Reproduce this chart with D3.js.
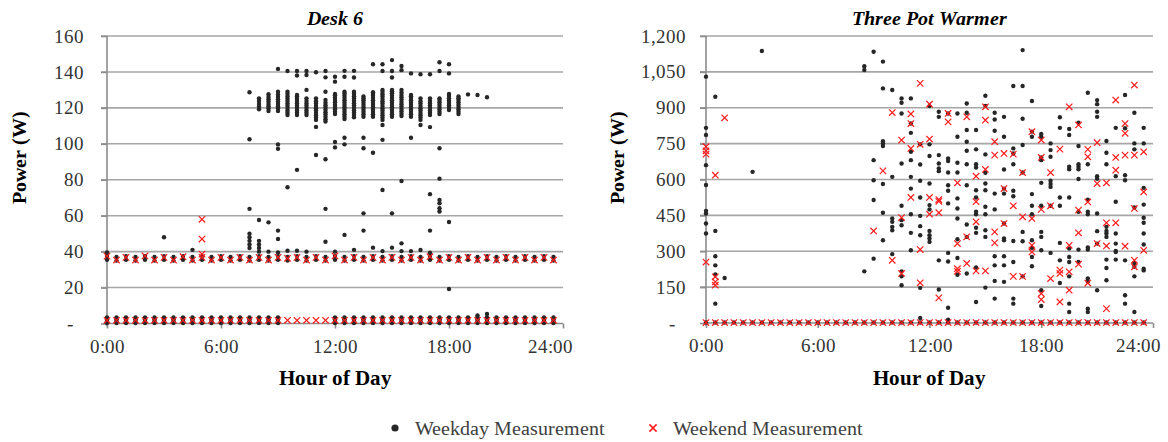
<!DOCTYPE html>
<html>
<head>
<meta charset="utf-8">
<script src="https://cdn.jsdelivr.net/npm/d3@7"></script>
<style>
  @font-face { font-family: "ChartSerif"; font-weight: normal; font-style: normal;
    src: local("Liberation Serif"), local("LiberationSerif"), local("LiberationSerif-Regular"), local("Times New Roman"), local("DejaVu Serif"), local("DejaVuSerif"), local("Noto Serif"), local("NotoSerif-Regular"); }
  @font-face { font-family: "ChartSerif"; font-weight: bold; font-style: normal;
    src: local("Liberation Serif Bold"), local("LiberationSerif-Bold"), local("Times New Roman Bold"), local("DejaVu Serif Bold"), local("DejaVuSerif-Bold"), local("Noto Serif Bold"), local("NotoSerif-Bold"); }
  @font-face { font-family: "ChartSerif"; font-weight: bold; font-style: italic;
    src: local("Liberation Serif Bold Italic"), local("LiberationSerif-BoldItalic"), local("Times New Roman Bold Italic"), local("DejaVu Serif Bold Italic"), local("DejaVuSerif-BoldItalic"), local("Noto Serif Bold Italic"), local("NotoSerif-BoldItalic"); }
  html, body { margin: 0; padding: 0; background: #fff; }
  svg { display: block; }
</style>
</head>
<body>
<svg id="chart" width="1168" height="442"></svg>
<script>
// ---- Tick values ----
const hourTicks = [0, 6, 12, 18, 24];
const deskYTicks = [0, 20, 40, 60, 80, 100, 120, 140, 160];
const warmerYTicks = [0, 150, 300, 450, 600, 750, 900, 1050, 1200];

// ---- Desk 6: readings grouped by half-hour slot [hour, [watts...]] ----
const deskWeekday = [
  [0, [0.3, 1.3, 2.3, 3.3, 35.5, 37.5, 39.5]],
  [0.5, [0.3, 1.3, 2.3, 3.3, 35, 37]],
  [1, [0.3, 1.3, 2.3, 3.3, 35.5, 37.5]],
  [1.5, [0.3, 1.3, 2.3, 3.3, 35, 37]],
  [2, [0.3, 1.3, 2.3, 3.3, 35.5, 37.5]],
  [2.5, [0.3, 1.3, 2.3, 3.3, 35, 37]],
  [3, [0.3, 1.3, 2.3, 3.3, 35.5, 37.5, 48]],
  [3.5, [0.3, 1.3, 2.3, 3.3, 35, 37]],
  [4, [0.3, 1.3, 2.3, 3.3, 35.5, 37.5]],
  [4.5, [0.3, 1.3, 2.3, 3.3, 35, 37, 41]],
  [5, [0.3, 1.3, 2.3, 3.3, 35.5, 37.5]],
  [5.5, [0.3, 1.3, 2.3, 3.3, 35, 37]],
  [6, [0.3, 1.3, 2.3, 3.3, 35.5, 37.5]],
  [6.5, [0.3, 1.3, 2.3, 3.3, 35, 37]],
  [7, [0.3, 1.3, 2.3, 3.3, 35.5, 37.5]],
  [7.5, [0.3, 1.3, 2.3, 3.3, 35, 37, 42, 44, 46, 48, 50, 63.8, 102.5, 128.7]],
  [8, [0.3, 1.3, 2.3, 3.3, 35.5, 37.5, 40, 42, 44, 46, 57.6, 119.2, 120.7, 122.2, 123.8, 125.3]],
  [8.5, [0.3, 1.3, 2.3, 3.3, 35, 37, 40, 56.3, 118.3, 119.6, 120.9, 122.2, 123.5, 124.8, 126.1, 127.6]],
  [9, [0.3, 1.3, 2.3, 3.3, 35.5, 37.5, 39.5, 47, 51.7, 97.2, 99.6, 118.3, 119.6, 120.9, 122.2, 123.5, 124.8, 126.1, 127.4, 129, 141.7]],
  [9.5, [35, 37, 40.5, 75.8, 116, 117.3, 118.6, 119.9, 121.2, 122.5, 123.8, 125.1, 126.4, 127.7, 129, 140.5]],
  [10, [35.5, 37.5, 40.5, 85.5, 116, 117.3, 118.6, 119.9, 121.2, 122.5, 123.8, 125.1, 126.4, 127.2, 138, 140.5]],
  [10.5, [35, 37, 40, 116, 117.3, 118.6, 119.9, 121.2, 122.5, 123.8, 125.3, 130, 138.3, 140.5]],
  [11, [35.5, 37.5, 93.8, 109.4, 113.3, 114.6, 115.9, 117.2, 118.5, 119.8, 121.1, 122.4, 123.7, 125.3, 139.8]],
  [11.5, [35, 37, 45.5, 63.8, 91.4, 112.4, 113.7, 115, 116.3, 117.6, 118.9, 120.2, 121.5, 122.8, 124.4, 129, 137, 140.5]],
  [12, [0.3, 1.3, 2.3, 3.3, 35.5, 37.5, 40, 98, 101, 116.6, 117.9, 119.2, 120.5, 121.8, 123.1, 124.4, 125.7, 127, 127.7, 134.6, 137.3]],
  [12.5, [0.3, 1.3, 2.3, 3.3, 35, 37, 49.3, 99.7, 103.4, 113.8, 115.1, 116.4, 117.7, 119, 120.3, 121.6, 122.9, 124.2, 125.5, 126.8, 128, 129, 137.3, 140.6]],
  [13, [0.3, 1.3, 2.3, 3.3, 35.5, 37.5, 41, 114.8, 116.1, 117.4, 118.7, 120, 121.3, 122.6, 123.9, 125.2, 126.5, 127.8, 129, 136.9, 140.6]],
  [13.5, [0.3, 1.3, 2.3, 3.3, 35, 37, 51.7, 61.3, 97.5, 103.4, 115.1, 116.4, 117.7, 119, 120.3, 121.6, 122.9, 124.2, 125.3, 126.3]],
  [14, [0.3, 1.3, 2.3, 3.3, 35.5, 37.5, 42.2, 95, 115.1, 116.4, 117.7, 119, 120.3, 121.6, 122.9, 124.2, 125.5, 126.8, 127.8, 128.7, 144.3]],
  [14.5, [0.3, 1.3, 2.3, 3.3, 35, 37, 40.3, 74.3, 102.2, 110.5, 113.3, 114.6, 115.9, 117.2, 118.5, 119.8, 121.1, 122.4, 123.7, 125, 126.3, 127.6, 128.9, 130, 140.5, 144.3]],
  [15, [0.3, 1.3, 2.3, 3.3, 35.5, 37.5, 42.2, 61.3, 115.1, 116.4, 117.7, 119, 120.3, 121.6, 122.9, 124.2, 125.5, 126.8, 128.1, 129.2, 130, 136.9, 140.5, 146.6]],
  [15.5, [0.3, 1.3, 2.3, 3.3, 35, 37, 40.3, 44.6, 79.3, 115.5, 116.8, 118.1, 119.4, 120.7, 122, 123.3, 124.6, 125.9, 127.2, 128.5, 130, 141, 143.3]],
  [16, [0.3, 1.3, 2.3, 3.3, 35.5, 37.5, 40.3, 103.4, 115.1, 116.4, 117.7, 119, 120.3, 121.6, 122.9, 124.2, 125.5, 126.5, 127.2, 139.2]],
  [16.5, [0.3, 1.3, 2.3, 3.3, 35, 37, 40.9, 110.5, 113.3, 114.6, 115.9, 117.2, 118.5, 119.8, 121.1, 122.4, 123.7, 125.3, 138.7]],
  [17, [0.3, 1.3, 2.3, 3.3, 35.5, 37.5, 39.4, 51.7, 72, 109.3, 116, 117.3, 118.6, 119.9, 121.2, 122.5, 123.8, 125.3, 138.7]],
  [17.5, [0.3, 1.3, 2.3, 3.3, 35, 37, 62.3, 64.1, 66.9, 68.8, 80.6, 97.5, 116.6, 117.9, 119.2, 120.5, 121.8, 123.1, 124.4, 125.3, 140.5, 145.4]],
  [18, [0.3, 1.3, 2.3, 3.3, 19.2, 35.5, 37.5, 56.5, 118.8, 120.1, 121.4, 122.7, 124, 125.3, 126.6, 127.7, 139.2, 144.3]],
  [18.5, [0.3, 1.3, 2.3, 3.3, 35, 37, 116.6, 117.9, 119.2, 120.5, 121.8, 123.1, 124.4, 125.3, 126.3]],
  [19, [0.3, 1.3, 2.3, 3.3, 35.5, 37.5, 127.5]],
  [19.5, [0.3, 1.3, 2.3, 3.3, 4.5, 35, 37, 127.2]],
  [20, [0.3, 1.3, 2.3, 3.3, 5.3, 35.5, 37.5, 125.9]],
  [20.5, [0.3, 1.3, 2.3, 3.3, 35, 37]],
  [21, [0.3, 1.3, 2.3, 3.3, 35.5, 37.5]],
  [21.5, [0.3, 1.3, 2.3, 3.3, 35, 37]],
  [22, [0.3, 1.3, 2.3, 3.3, 35.5, 37.5]],
  [22.5, [0.3, 1.3, 2.3, 3.3, 35, 37]],
  [23, [0.3, 1.3, 2.3, 3.3, 35.5, 37.5]],
  [23.5, [0.3, 1.3, 2.3, 3.3, 35, 37]]
];

const deskWeekend = [
  [0, [1.8, 37.5]], [0.5, [1.8, 35.3]], [1, [1.8, 36.8]], [1.5, [1.8, 35.3]],
  [2, [1.8, 37.6]], [2.5, [1.8, 35.3]], [3, [1.8, 36.8]], [3.5, [1.8, 35.3]],
  [4, [1.8, 37.2]], [4.5, [1.8, 35.3]], [5, [1.8, 36.8, 38.6, 47, 58]], [5.5, [1.8, 35.3]],
  [6, [1.8, 36.8]], [6.5, [1.8, 35.3]], [7, [1.8, 36.8]], [7.5, [1.8, 35.3]],
  [8, [1.8, 36.8]], [8.5, [1.8, 35.3]], [9, [1.8, 36.8]], [9.5, [1.8, 36.3]],
  [10, [1.8, 36.8]], [10.5, [1.8, 35.3]], [11, [1.8, 36.8]], [11.5, [1.8, 35.3]],
  [12, [1.8, 37.6]], [12.5, [1.8, 35.3]], [13, [1.8, 36.8]], [13.5, [1.8, 35.3]],
  [14, [1.8, 36.8]], [14.5, [1.8, 35.3]], [15, [1.8, 36.8]], [15.5, [1.8, 35.3]],
  [16, [1.8, 36.8]], [16.5, [1.8, 35.3]], [17, [1.8, 37.2]], [17.5, [1.8, 35.3]],
  [18, [1.8, 36.8]], [18.5, [1.8, 35.3]], [19, [1.8, 36.8]], [19.5, [1.8, 35.3]],
  [20, [1.8, 36.8]], [20.5, [1.8, 35.3]], [21, [1.8, 36.8]], [21.5, [1.8, 35.3]],
  [22, [1.8, 36.8]], [22.5, [1.8, 35.3]], [23, [1.8, 36.8]], [23.5, [1.8, 35.3]]
];

// ---- Three Pot Warmer: readings grouped by half-hour slot ----
const warmerWeekday = [
  [0, [2, 374, 416, 458, 469, 577, 660, 786, 816, 1030]],
  [0.5, [2, 81, 203, 241, 279, 385, 946]],
  [1, [2, 188]], [1.5, [2]], [2, [2]],
  [2.5, [2, 632]],
  [3, [2, 1137]],
  [3.5, [2]], [4, [2]], [4.5, [2]], [5, [2]], [5.5, [2]], [6, [2]], [6.5, [2]], [7, [2]], [7.5, [2]], [8, [2]],
  [8.5, [2, 216, 1058, 1074]],
  [9, [2, 269, 514, 597, 681, 1134]],
  [9.5, [2, 346, 461, 581, 740, 751, 760, 981, 1093]],
  [10, [2, 288, 388, 402, 423, 437, 611, 974]],
  [10.5, [2, 158, 195, 216, 409, 430, 490, 667, 876, 921, 939]],
  [11, [2, 304, 377, 455, 562, 611, 681, 716, 795, 834, 939]],
  [11.5, [2, 21, 147, 367, 405, 448, 525, 595, 663, 747]],
  [12, [2, 339, 353, 367, 385, 475, 493, 583, 698, 747, 907]],
  [12.5, [2, 140, 262, 635, 646, 667, 702, 862, 883]],
  [13, [2, 14, 64, 257, 293, 500, 553, 576, 629, 677, 688, 876]],
  [13.5, [2, 202, 272, 350, 437, 479, 521, 629, 670, 779, 876]],
  [14, [2, 207, 360, 412, 576, 664, 720, 758, 807, 879, 918]],
  [14.5, [2, 88, 232, 377, 398, 455, 465, 525, 555, 650, 664, 726, 807]],
  [15, [2, 148, 360, 388, 455, 486, 555, 583, 628, 705, 908, 950]],
  [15.5, [2, 102, 176, 241, 279, 475, 541, 804, 851, 879]],
  [16, [2, 172, 241, 279, 346, 353, 416, 541, 562, 642, 779, 862]],
  [16.5, [2, 81, 102, 255, 343, 530, 553, 664, 709, 730, 991]],
  [17, [2, 195, 342, 381, 629, 744, 854, 991, 1141]],
  [17.5, [2, 237, 276, 314, 346, 455, 490, 539, 779, 800, 928]],
  [18, [2, 71, 137, 304, 360, 381, 490, 586, 681, 692, 779, 790]],
  [18.5, [2, 293, 490, 569, 581, 595, 695, 723, 751]],
  [19, [2, 167, 262, 335, 490, 525, 816, 860]],
  [19.5, [2, 46, 81, 195, 255, 276, 311, 525, 643, 653, 786, 811]],
  [20, [2, 255, 307, 465, 602, 643, 653, 664, 740, 837]],
  [20.5, [2, 46, 60, 172, 186, 307, 316, 455, 465, 516, 664, 963]],
  [21, [2, 137, 332, 384, 458, 603, 614, 862, 883, 915, 932]],
  [21.5, [2, 179, 230, 265, 360, 374, 385, 402, 664, 712, 761]],
  [22, [2, 265, 297, 301, 332, 374, 507, 614, 816]],
  [22.5, [2, 81, 116, 262, 597, 618, 814, 953]],
  [23, [2, 46, 195, 235, 251, 483, 726, 751, 879]],
  [23.5, [2, 220, 227, 328, 374, 419, 440, 495, 565, 751, 816]]
];

const warmerWeekend = [
  [0, [2, 255, 706, 720, 737]],
  [0.5, [2, 158, 172, 193, 618]],
  [1, [2, 858]],
  [1.5, [2]], [2, [2]], [2.5, [2]], [3, [2]], [3.5, [2]], [4, [2]], [4.5, [2]], [5, [2]], [5.5, [2]],
  [6, [2]], [6.5, [2]], [7, [2]], [7.5, [2]], [8, [2]], [8.5, [2]],
  [9, [2, 385]],
  [9.5, [2, 636]],
  [10, [2, 262, 880]],
  [10.5, [2, 207, 441, 765]],
  [11, [2, 525, 730, 834, 874]],
  [11.5, [2, 168, 307, 747, 1002]],
  [12, [2, 455, 525, 769, 915]],
  [12.5, [2, 105, 461, 509, 516]],
  [13, [2, 841, 876]],
  [13.5, [2, 216, 227, 332, 586]],
  [14, [2, 249, 360, 862]],
  [14.5, [2, 218, 423, 507, 614]],
  [15, [2, 218, 642, 848, 904]],
  [15.5, [2, 335, 381, 702, 758]],
  [16, [2, 416, 562, 709]],
  [16.5, [2, 195, 490, 706]],
  [17, [2, 195, 444, 629]],
  [17.5, [2, 297, 325, 437, 800]],
  [18, [2, 98, 123, 475, 692, 765]],
  [18.5, [2, 186, 490, 629]],
  [19, [2, 88, 207, 221, 727]],
  [19.5, [2, 137, 214, 325, 904]],
  [20, [2, 246, 377, 472, 828]],
  [20.5, [2, 167, 506, 695, 726]],
  [21, [2, 332, 583, 754]],
  [21.5, [2, 60, 322, 419, 586]],
  [22, [2, 419, 639, 692, 932]],
  [22.5, [2, 321, 702, 793, 834]],
  [23, [2, 235, 262, 479, 702, 995]],
  [23.5, [2, 304, 548, 716]]
];

// ---- Drawing ----
const svg = d3.select('#chart');
svg.append('rect').attr('width', 1168).attr('height', 442).attr('fill', '#fff');

const GRID = '#a6a6a6';
const AXIS = '#8c8c8c';
const LABEL = '#333';
const DOT = '#262626';
const CROSS = '#ff1a1a';
const SERIF = 'ChartSerif, "Liberation Serif", "Times New Roman", "DejaVu Serif", serif';

const flatten = groups => groups.flatMap(([h, ws]) => ws.map(w => [h, w]));
const crossPath = s => `M${-s},${-s}L${s},${s}M${-s},${s}L${s},${-s}`;

function drawPanel(cfg) {
  const g = svg.append('g').attr('font-family', SERIF);
  const x = d3.scaleLinear().domain([0, 24]).range([cfg.left, cfg.right]);
  const y = d3.scaleLinear().domain([0, cfg.yMax]).range([cfg.bottom, cfg.top]);

  // horizontal gridlines
  g.append('g').selectAll('line')
    .data(cfg.yTicks.filter(v => v > 0))
    .join('line')
    .attr('x1', cfg.left - 6).attr('x2', cfg.right)
    .attr('y1', d => y(d)).attr('y2', d => y(d))
    .attr('stroke', GRID).attr('stroke-width', 1.6);

  // y axis
  const yAxis = g.append('g')
    .attr('transform', `translate(${cfg.left},0)`)
    .call(d3.axisLeft(y).tickValues(cfg.yTicks).tickSize(6).tickPadding(cfg.yPad)
      .tickFormat(d => d === 0 ? '-' : d3.format(',')(d)));
  yAxis.attr('font-family', SERIF).attr('font-size', 19);
  yAxis.select('.domain').remove();
  yAxis.selectAll('line').attr('stroke', AXIS).attr('stroke-width', 1.6);
  yAxis.selectAll('text').attr('fill', LABEL)
    .filter(d => d === 0).attr('x', -cfg.zeroOffset);
  g.append('line')
    .attr('x1', cfg.left).attr('x2', cfg.left)
    .attr('y1', cfg.top).attr('y2', cfg.bottom + 3)
    .attr('stroke', AXIS).attr('stroke-width', 1.6);

  // x axis
  const xAxis = g.append('g')
    .attr('transform', `translate(0,${cfg.bottom})`)
    .call(d3.axisBottom(x).tickValues(hourTicks).tickSize(5).tickPadding(11)
      .tickFormat(d => `${d}:00`));
  xAxis.attr('font-family', SERIF).attr('font-size', 19);
  xAxis.select('.domain').remove();
  xAxis.selectAll('line').attr('stroke', AXIS).attr('stroke-width', 1.6);
  xAxis.selectAll('text').attr('fill', LABEL);
  // the last hour label is kept inside the chart area
  xAxis.selectAll('.tick').filter(d => d === 24).select('text')
    .attr('text-anchor', 'end').attr('x', cfg.lastLabelEnd - x(24));
  g.append('line')
    .attr('x1', cfg.left).attr('x2', cfg.right)
    .attr('y1', cfg.bottom).attr('y2', cfg.bottom)
    .attr('stroke', AXIS).attr('stroke-width', 1.6);

  // weekday readings
  g.append('g').selectAll('circle')
    .data(flatten(cfg.weekday))
    .join('circle')
    .attr('cx', d => x(d[0])).attr('cy', d => y(d[1]))
    .attr('r', 2.2).attr('fill', DOT);

  // weekend readings
  g.append('g').selectAll('path')
    .data(flatten(cfg.weekend))
    .join('path')
    .attr('transform', d => `translate(${x(d[0])},${y(d[1])})`)
    .attr('d', crossPath(3.2))
    .attr('fill', 'none').attr('stroke', CROSS).attr('stroke-width', 1.2);

  // titles
  const cx = (cfg.left + cfg.right) / 2;
  g.append('text')
    .attr('x', cx).attr('y', 25).attr('text-anchor', 'middle')
    .attr('font-size', 20).attr('font-weight', 'bold').attr('font-style', 'italic')
    .attr('fill', '#000').text(cfg.title);
  g.append('text')
    .attr('x', cx).attr('y', 385).attr('text-anchor', 'middle')
    .attr('font-size', 21).attr('font-weight', 'bold')
    .attr('fill', '#000').text('Hour of Day');
  g.append('text')
    .attr('transform', `translate(${cfg.yTitleX},157) rotate(-90)`)
    .attr('text-anchor', 'middle')
    .attr('font-size', 20).attr('font-weight', 'bold')
    .attr('fill', '#000').text('Power (W)');
}

drawPanel({
  title: 'Desk 6', left: 107, right: 563, top: 36, bottom: 323.5,
  yMax: 160, yTicks: deskYTicks, yPad: 17, zeroOffset: 34, yTitleX: 26, lastLabelEnd: 572,
  weekday: deskWeekday, weekend: deskWeekend
});

drawPanel({
  title: 'Three Pot Warmer', left: 706, right: 1153, top: 36, bottom: 323,
  yMax: 1200, yTicks: warmerYTicks, yPad: 14, zeroOffset: 31, yTitleX: 624, lastLabelEnd: 1160,
  weekday: warmerWeekday, weekend: warmerWeekend
});

// legend
const legend = svg.append('g').attr('transform', 'translate(0,428)').attr('font-family', SERIF);
legend.append('circle').attr('cx', 395).attr('cy', 0).attr('r', 3.6).attr('fill', DOT);
legend.append('text').attr('x', 415).attr('y', 7).attr('font-size', 20).attr('fill', '#404040')
  .text('Weekday Measurement');
legend.append('path').attr('transform', 'translate(653,0)').attr('d', crossPath(3.6))
  .attr('fill', 'none').attr('stroke', CROSS).attr('stroke-width', 1.5);
legend.append('text').attr('x', 673).attr('y', 7).attr('font-size', 20).attr('fill', '#404040')
  .text('Weekend Measurement');
</script>
</body>
</html>
